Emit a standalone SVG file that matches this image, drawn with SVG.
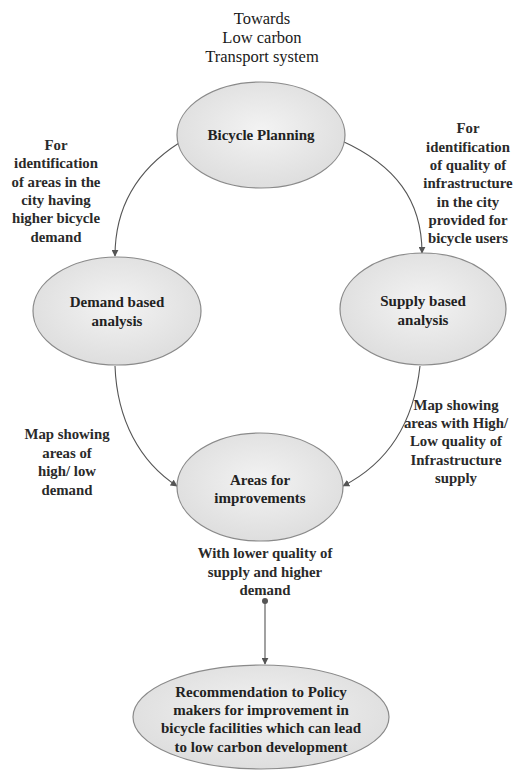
<svg xmlns="http://www.w3.org/2000/svg" width="525" height="771" viewBox="0 0 525 771">
  <style>
    .node { fill: url(#nodeFill); stroke: #8a8a8a; stroke-width: 1.2; }
    text { font-family: 'Liberation Serif', 'Times New Roman', 'DejaVu Serif', serif; text-anchor: middle; }
    .label { font-size: 15px; font-weight: bold; fill: #222; }
    .note { font-size: 14.8px; font-weight: bold; fill: #2a2a2a; }
    .plain { font-weight: normal; font-size: 16.5px; fill: #1a1a1a; }
    .edge { fill: none; stroke: #555; stroke-width: 1.1; marker-end: url(#arrow); }
  </style>
  <defs>
    <radialGradient id="nodeFill" cx="50%" cy="45%" r="60%">
      <stop offset="0" stop-color="#f3f3f3"/>
      <stop offset="1" stop-color="#dcdcdc"/>
    </radialGradient>
    <marker id="arrow" viewBox="0 0 10 10" refX="9" refY="5" markerWidth="7" markerHeight="7" orient="auto" markerUnits="userSpaceOnUse">
      <path d="M0,0 L10,5 L0,10 z" fill="#555"/>
    </marker>
    <marker id="dot" viewBox="0 0 10 10" refX="5" refY="5" markerWidth="6" markerHeight="6" markerUnits="userSpaceOnUse">
      <circle cx="5" cy="5" r="5" fill="#555"/>
    </marker>
  </defs>

  <rect width="525" height="771" fill="#ffffff"/>

  <g font-family="Liberation Serif, serif">
  <!-- free-standing notes -->
  <g id="goal">
    <text class="note plain" x="262" y="24">Towards</text>
    <text class="note plain" x="262" y="43">Low carbon</text>
    <text class="note plain" x="262" y="62">Transport system</text>
  </g>
  <g id="note-demand">
    <text class="note" x="56" y="150">For</text>
    <text class="note" x="56" y="168">identification</text>
    <text class="note" x="56" y="187">of areas in the</text>
    <text class="note" x="56" y="205">city having</text>
    <text class="note" x="56" y="223">higher bicycle</text>
    <text class="note" x="56" y="242">demand</text>
  </g>
  <g id="note-supply">
    <text class="note" x="468" y="133">For</text>
    <text class="note" x="468" y="152">identification</text>
    <text class="note" x="468" y="170">of quality of</text>
    <text class="note" x="468" y="188">infrastructure</text>
    <text class="note" x="468" y="207">in the city</text>
    <text class="note" x="468" y="225">provided for</text>
    <text class="note" x="468" y="243">bicycle users</text>
  </g>
  <g id="note-demand-map">
    <text class="note" x="67" y="439">Map showing</text>
    <text class="note" x="67" y="458">areas of</text>
    <text class="note" x="67" y="476">high/ low</text>
    <text class="note" x="67" y="495">demand</text>
  </g>
  <g id="note-supply-map">
    <text class="note" x="456" y="410">Map showing</text>
    <text class="note" x="456" y="428">areas with High/</text>
    <text class="note" x="456" y="446">Low quality of</text>
    <text class="note" x="456" y="465">Infrastructure</text>
    <text class="note" x="456" y="483">supply</text>
  </g>
  <g id="note-areas">
    <text class="note" x="265" y="558">With lower quality of</text>
    <text class="note" x="265" y="577">supply and higher</text>
    <text class="note" x="265" y="595">demand</text>
  </g>

  <!-- connectors -->
  <g id="connectors">
    <path class="edge" d="M179,143 C140,168 115,205 115,256"/>
    <path class="edge" d="M342,141 C395,165 422,200 422,253"/>
    <path class="edge" d="M115,366 C117,420 140,462 177,486"/>
    <path class="edge" d="M420,366 C414,420 390,462 343,486"/>
    <path class="edge" d="M265,601 L265,664" marker-start="url(#dot)"/>
  </g>

  <!-- nodes -->
  <g id="bicycle-planning">
    <ellipse class="node" cx="261" cy="135" rx="84" ry="53"/>
    <text class="label" x="261" y="140">Bicycle Planning</text>
  </g>
  <g id="demand-analysis">
    <ellipse class="node" cx="117" cy="311" rx="84" ry="54"/>
    <text class="label" x="117" y="307">Demand based</text>
    <text class="label" x="117" y="326">analysis</text>
  </g>
  <g id="supply-analysis">
    <ellipse class="node" cx="423" cy="309" rx="83" ry="56"/>
    <text class="label" x="423" y="306">Supply based</text>
    <text class="label" x="423" y="325">analysis</text>
  </g>
  <g id="areas-improvement">
    <ellipse class="node" cx="260" cy="487" rx="83" ry="54"/>
    <text class="label" x="260" y="485">Areas for</text>
    <text class="label" x="260" y="503">improvements</text>
  </g>
  <g id="recommendation">
    <ellipse class="node" cx="261" cy="717" rx="128" ry="52"/>
    <text class="label" x="261" y="697">Recommendation to Policy</text>
    <text class="label" x="261" y="715">makers for improvement in</text>
    <text class="label" x="261" y="733">bicycle facilities which can lead</text>
    <text class="label" x="261" y="752">to low carbon development</text>
  </g>
  </g>
</svg>
